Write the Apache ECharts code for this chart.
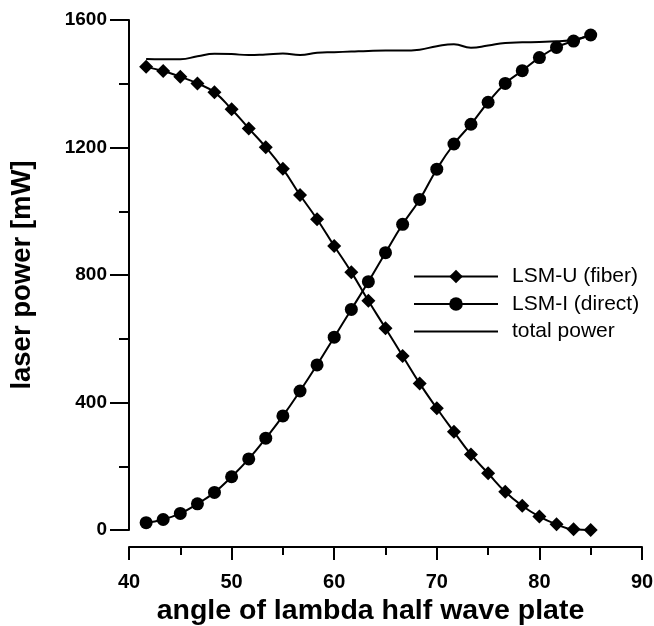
<!DOCTYPE html>
<html>
<head>
<meta charset="utf-8">
<script src="https://cdn.jsdelivr.net/npm/echarts@6/dist/echarts.min.js"></script>
<style>html,body{margin:0;padding:0;background:#fff}#c{width:654px;height:626px}</style>
</head>
<body>
<div id="c"></div>
<script>
const angles = [41.67, 43.33, 45, 46.67, 48.33, 50, 51.67, 53.33, 55, 56.67, 58.33, 60, 61.67, 63.33, 65, 66.67, 68.33, 70, 71.67, 73.33, 75, 76.67, 78.33, 80, 81.67, 83.33, 85];
const lsmU = [1453, 1440, 1422, 1401, 1373, 1320, 1260, 1201, 1133, 1051, 975, 891, 809, 719, 633, 546, 460, 382, 308, 237, 178, 120, 76, 42, 18, 2, 0];
const lsmI = [23, 33, 52, 82, 118, 167, 223, 288, 358, 436, 518, 605, 692, 779, 870, 959, 1037, 1132, 1211, 1273, 1342, 1401, 1441, 1482, 1514, 1534, 1553];
const totalPower = [1478, 1477, 1477, 1486, 1494, 1493, 1490, 1492, 1495, 1490, 1497, 1499, 1501, 1503, 1504, 1504, 1507, 1518, 1524, 1513, 1520, 1528, 1530, 1531, 1533, 1538, 1553];
const seriesNames = ['LSM-U (fiber)', 'LSM-I (direct)', 'total power'];
const xTitle = 'angle of lambda half wave plate';
const yTitle = 'laser power [mW]';

const pair = (ys) => angles.map((a, i) => [a, ys[i]]);
const FONT = '"Liberation Sans", Arial, Helvetica, sans-serif';
const chart = echarts.init(document.getElementById('c'), null, {renderer: 'canvas'});
chart.setOption({
  animation: false,
  backgroundColor: '#fff',
  grid: {left: 129, right: 12, top: 20, bottom: 96, containLabel: false, outerBoundsMode: 'none'},
  legend: {
    orient: 'vertical', left: 408, top: 261, itemWidth: 84, itemHeight: 17, itemGap: 6.5,
    textStyle: {fontFamily: FONT, fontSize: 21, color: '#000', lineHeight: 18, padding: [0, 0, 0, 9]},
    data: [
      {name: seriesNames[0]},
      {name: seriesNames[1]},
      {name: seriesNames[2], itemStyle: {opacity: 0}}
    ]
  },
  xAxis: {
    type: 'value', min: 40, max: 90, interval: 10, offset: 17,
    name: xTitle, nameLocation: 'middle', nameGap: 50,
    nameTextStyle: {fontFamily: FONT, fontSize: 28.5, fontWeight: 'bold', color: '#000', padding: [0, 30, 0, 0]},
    axisLine: {show: true, onZero: false, lineStyle: {color: '#000', width: 2}},
    axisTick: {show: true, inside: false, length: 13, lineStyle: {color: '#000', width: 2}},
    minorTick: {show: true, splitNumber: 2, length: 8, lineStyle: {color: '#000', width: 2}},
    axisLabel: {fontFamily: FONT, fontSize: 20, fontWeight: 'bold', color: '#000', margin: 25},
    splitLine: {show: false}
  },
  yAxis: {
    type: 'value', min: 0, max: 1600, interval: 400,
    name: yTitle, nameLocation: 'middle', nameGap: 93, nameRotate: 90,
    nameTextStyle: {fontFamily: FONT, fontSize: 27.5, fontWeight: 'bold', color: '#000'},
    axisLine: {show: true, onZero: false, lineStyle: {color: '#000', width: 2}},
    axisTick: {show: true, inside: false, length: 19, lineStyle: {color: '#000', width: 2}},
    minorTick: {show: true, splitNumber: 2, length: 10, lineStyle: {color: '#000', width: 2}},
    axisLabel: {fontFamily: FONT, fontSize: 19, fontWeight: 'bold', color: '#000', margin: 22,
      formatter: (v) => String(v)},
    splitLine: {show: false}
  },
  series: [
    {name: seriesNames[0], type: 'line', data: pair(lsmU), smooth: true, symbol: 'diamond', symbolSize: 14,
     lineStyle: {color: '#000', width: 2}, itemStyle: {color: '#000'}, z: 3},
    {name: seriesNames[1], type: 'line', data: pair(lsmI), smooth: true, symbol: 'circle', symbolSize: 13,
     lineStyle: {color: '#000', width: 2}, itemStyle: {color: '#000'}, z: 3},
    {name: seriesNames[2], type: 'line', data: pair(totalPower), smooth: true, symbol: 'none',
     lineStyle: {color: '#000', width: 2}, itemStyle: {color: '#000'}, z: 2}
  ]
});
</script>
</body>
</html>
